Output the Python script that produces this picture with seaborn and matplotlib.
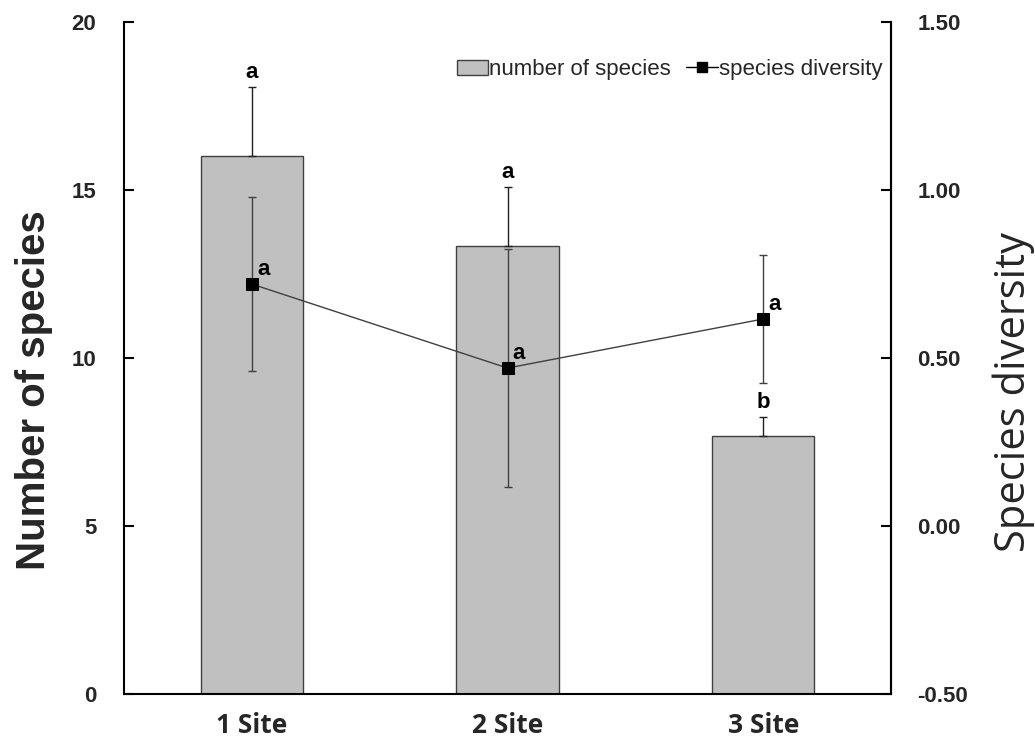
import matplotlib
matplotlib.use("Agg")
import matplotlib.pyplot as plt
import seaborn as sns
import numpy as np
from matplotlib.patches import Patch
from matplotlib.lines import Line2D

sites = ["1 Site", "2 Site", "3 Site"]
n_species = [16.0, 13.33, 7.67]
n_species_err = [2.07, 1.75, 0.57]
diversity = [0.72, 0.47, 0.616]
diversity_err = [0.26, 0.355, 0.19]
species_letters = ["a", "a", "b"]
diversity_letters = ["a", "a", "a"]

sns.set_theme(style="white")
plt.rcParams["font.family"] = ["Liberation Sans", "DejaVu Sans"]
LABEL_FONT = ["Open Sans", "DejaVu Sans"]

fig = plt.figure(figsize=(10.35, 7.4), dpi=100)
ax = fig.add_axes([0.1198, 0.0622, 0.7411, 0.9081])

sns.barplot(x=sites, y=n_species, color="#c0c0c0", edgecolor="#404040",
            linewidth=1.0, width=0.4, saturation=1, ax=ax)
x = np.arange(len(sites))
# upper half error bars on the bars
ax.errorbar(x, n_species, yerr=[np.zeros(len(x)), n_species_err], fmt="none",
            ecolor="#202020", elinewidth=1.0, capsize=3, capthick=1.0)
for xi, v, e, t in zip(x, n_species, n_species_err, species_letters):
    ax.text(xi, v + e + 0.12, t, ha="center", va="bottom",
            fontsize=16, fontweight="bold", color="black")

ax.set_xlim(-0.5, 2.5)
ax.set_ylim(0, 20)
ax.set_yticks([0, 5, 10, 15, 20])
ax.set_xticks([0.5, 1.5], minor=True)
ax.tick_params(axis="x", which="major", length=0, labelsize=19, pad=13)
ax.tick_params(axis="x", which="minor", direction="in", length=5, width=1.2,
               color="black")
ax.tick_params(axis="y", direction="in", length=7, width=1.5, color="black",
               labelsize=16, pad=20, left=True)
for lbl in ax.get_yticklabels():
    lbl.set_fontweight("bold")
for lbl in ax.get_xticklabels():
    lbl.set_family(LABEL_FONT)
    lbl.set_fontweight("bold")
ax.set_ylabel("Number of species", fontsize=29, fontweight="bold")
ax.yaxis.set_label_coords(-0.0926, 0.452)
ax.set_xlabel("")

for side in ["left", "right", "bottom"]:
    ax.spines[side].set_visible(True)
    ax.spines[side].set_color("black")
    ax.spines[side].set_linewidth(1.5)
ax.spines["top"].set_visible(False)

ax2 = ax.twinx()
ax2.errorbar(x, diversity, yerr=diversity_err, fmt="none", ecolor="#404040",
             elinewidth=1.0, capsize=3, capthick=1.0)
sns.lineplot(x=x, y=diversity, ax=ax2, color="#404040", linewidth=1.0,
             marker="s", markersize=9, markerfacecolor="black",
             markeredgecolor="black")
for xi, v, t in zip(x, diversity, diversity_letters):
    ax2.text(xi + 0.02, v + 0.012, t, ha="left", va="bottom",
             fontsize=16, fontweight="bold", color="black")
ax2.set_ylim(-0.5, 1.5)
ax2.set_yticks([-0.5, 0.0, 0.5, 1.0, 1.5])
ax2.set_yticklabels([f"{v:.2f}" for v in [-0.5, 0.0, 0.5, 1.0, 1.5]])
ax2.tick_params(axis="y", direction="in", length=7, width=1.5, color="black",
                labelsize=16, pad=19, right=True)
for lbl in ax2.get_yticklabels():
    lbl.set_fontweight("bold")
ax2.set_ylabel("Species diversity", fontsize=30, family=LABEL_FONT)
ax2.yaxis.set_label_coords(1.1317, 0.449)
ax2.spines["top"].set_visible(False)
ax2.spines["right"].set_color("black")
ax2.spines["right"].set_linewidth(1.5)
ax2.spines["left"].set_visible(False)
ax2.spines["bottom"].set_visible(False)
ax.set_xlim(-0.5, 2.5)

handles = [Patch(facecolor="#c0c0c0", edgecolor="#404040", linewidth=1.0),
           Line2D([0], [0], color="black", linewidth=1.0, marker="s",
                  markersize=7, markerfacecolor="black")]
leg = ax2.legend(handles, ["number of species", "species diversity"],
                 loc="upper right", bbox_to_anchor=(1.0, 0.958), ncol=2,
                 frameon=False, fontsize=16, handlelength=1.4,
                 handletextpad=0.05, columnspacing=0.7, borderaxespad=0.0)

fig.savefig("out.png", dpi=100)
